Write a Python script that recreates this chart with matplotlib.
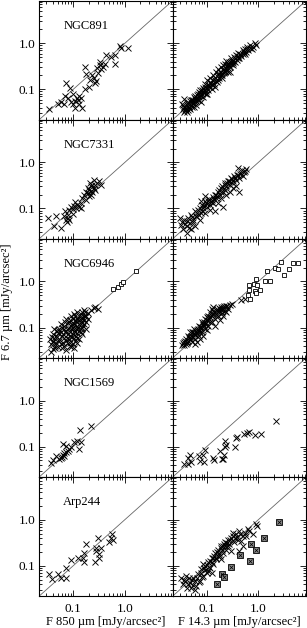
import numpy as np
import matplotlib
matplotlib.use("Agg")
import matplotlib.pyplot as plt
from matplotlib.ticker import LogLocator, NullFormatter

plt.rcParams['font.family'] = ['Liberation Serif', 'DejaVu Serif']

# --------------------------------------------------------------------------- #
# data: (F_x, F_6.7um) in mJy/arcsec^2                 #
# --------------------------------------------------------------------------- #
GALAXIES = ["NGC891", "NGC7331", "NGC6946", "NGC1569", "Arp244"]
XLABELS = ["F 850 µm [mJy/arcsec²]", "F 14.3 µm [mJy/arcsec²]"]
YLABEL = "F 6.7 µm [mJy/arcsec²]"
TICKS = [0.1, 1.0]
TICKLABELS = ["0.1", "1.0"]
LIMITS = (0.022, 8.5)

ngc891_850 = [
    (.034, .038), (.051, .047), (.058, .052), (.073, .14), (.087, .105), (.08, .066),
    (.1, .08), (.108, .04), (.12, .066), (.13, .073), (.125, .06), (.14, .066),
    (.09, .052), (.11, .055), (.1, .047), (.07, .07), (.065, .047), (.17, .1),
    (.2, .115), (.21, .16), (.17, .31), (.18, .22), (.23, .2), (.25, .18),
    (.28, .15), (.27, .14), (.3, .23), (.29, .29), (.33, .34), (.34, .27),
    (.37, .31), (.33, .4), (.43, .57), (.41, .36), (.54, .5), (.64, .55),
    (.64, .36), (.83, .8), (.8, .86), (1.15, .8), (.15, .04), (.13, .047),
]
ngc891_14 = [
    (.034, .038), (.036, .042), (.037, .063), (.038, .035), (.040, .040), (.041, .045),
    (.043, .053), (.044, .036), (.046, .042), (.048, .049), (.049, .058), (.051, .041),
    (.054, .047), (.056, .068), (.058, .053), (.060, .063), (.063, .045), (.064, .074),
    (.067, .058), (.070, .088), (.072, .068), (.074, .099), (.077, .053), (.080, .081),
    (.084, .109), (.086, .068), (.090, .096), (.093, .133), (.097, .078), (.100, .109),
    (.103, .158), (.108, .096), (.113, .122), (.117, .172), (.121, .137), (.125, .104),
    (.131, .158), (.135, .20), (.140, .13), (.145, .18), (.15, .24), (.155, .145),
    (.162, .20), (.168, .28), (.175, .172), (.18, .24), (.19, .30), (.195, .20),
    (.205, .26), (.21, .33), (.22, .225), (.225, .36), (.235, .28), (.24, .41),
    (.25, .33), (.26, .24), (.27, .40), (.28, .30), (.29, .47), (.30, .35),
    (.315, .42), (.33, .33), (.34, .50), (.35, .40), (.37, .55), (.38, .44),
    (.41, .62), (.43, .49), (.44, .60), (.47, .52), (.50, .71), (.51, .60),
    (.55, .77), (.57, .65), (.61, .83), (.63, .71), (.69, .90), (.74, .77),
    (.80, .83), (.86, .99), (.92, .90),
    (.036, .032), (.041, .032), (.048, .038), (.056, .042), (.033, .049), (.051, .058),
    (.074, .074), (.086, .088), (.1, .081), (.125, .133), (.145, .112), (.168, .158),
    (.195, .172), (.225, .24), (.28, .24), (.33, .42), (.41, .47), (.55, .60),
    (.035, .045), (.039, .036), (.042, .050), (.045, .040), (.047, .056), (.050, .045),
    (.053, .060), (.055, .050), (.059, .072), (.061, .055), (.065, .065), (.068, .080),
    (.071, .060), (.075, .085), (.078, .070), (.082, .095), (.088, .085), (.092, .110),
    (.095, .090), (.105, .125), (.110, .110), (.118, .145), (.128, .125), (.138, .165),
    (.148, .150), (.158, .190), (.172, .210), (.185, .200), (.200, .230), (.215, .280),
    (.230, .250), (.245, .310), (.260, .360), (.275, .330), (.300, .400), (.320, .380),
    (.360, .480), (.400, .520), (.450, .570), (.520, .660), (.590, .740), (.700, .800),
]
ngc7331_850 = [
    (.033, .062), (.046, .069), (.042, .042), (.057, .037), (.067, .067), (.072, .057),
    (.075, .052), (.08, .062), (.083, .055), (.070, .09), (.083, .093), (.09, .107),
    (.097, .097), (.105, .115), (.113, .102), (.12, .121), (.13, .107), (.14, .102),
    (.108, .135), (.15, .17), (.16, .2), (.175, .23), (.19, .28), (.20, .255),
    (.22, .30), (.235, .33), (.25, .28), (.21, .355), (.27, .33), (.29, .355),
    (.315, .39), (.235, .23), (.27, .255), (.34, .33), (.19, .22), (.22, .2),
    (.175, .155), (.14, .13), (.097, .077), (.078, .073), (.22, .245), (.25, .42),
    (.20, .19),
]
ngc7331_14 = [
    (.030, .062), (.032, .044), (.037, .057), (.041, .041), (.035, .035), (.044, .062),
    (.047, .048), (.050, .073), (.055, .057), (.059, .087), (.063, .067), (.068, .093),
    (.073, .057), (.077, .08), (.081, .121), (.085, .102), (.091, .143), (.091, .183),
    (.099, .11), (.107, .143), (.115, .121), (.124, .155), (.133, .13), (.142, .20),
    (.153, .17), (.165, .23), (.18, .20), (.19, .28), (.21, .23), (.21, .11),
    (.224, .355), (.24, .30), (.26, .39), (.28, .33), (.30, .46), (.32, .39),
    (.34, .50), (.37, .42), (.40, .54), (.43, .46), (.47, .60), (.50, .50),
    (.54, .64), (.58, .72), (.40, .76), (.43, .23), (.142, .087), (.079, .143),
    (.041, .029), (.059, .041), (.05, .035), (.091, .08), (.115, .093), (.165, .13),
    (.24, .20), (.32, .28), (.37, .30), (.28, .23), (.19, .17), (.224, .255),
    (.033, .05), (.038, .045), (.042, .053), (.046, .038), (.052, .065), (.054, .05),
    (.061, .070), (.066, .08), (.070, .072), (.075, .10), (.082, .09), (.088, .115),
    (.095, .13), (.102, .125), (.11, .16), (.12, .14), (.13, .175), (.14, .16),
    (.15, .20), (.16, .19), (.17, .25), (.185, .23), (.20, .30), (.215, .27),
    (.23, .32), (.25, .36), (.27, .40), (.29, .37), (.31, .43), (.35, .46),
    (.38, .52), (.45, .56), (.52, .62), (.48, .70),
]
ngc6946_850 = [
    (.040, .034), (.051, .037), (.072, .033), (.105, .036),
    (.037, .044), (.046, .045), (.058, .043), (.078, .046), (.097, .043), (.12, .045),
    (.036, .057), (.043, .058), (.054, .056), (.067, .059), (.083, .056), (.105, .058), (.13, .057),
    (.040, .073), (.051, .075), (.063, .071), (.078, .074), (.097, .072), (.12, .075), (.15, .073),
    (.043, .093), (.054, .091), (.067, .095), (.09, .092), (.113, .094), (.14, .091), (.175, .094),
    (.058, .12), (.078, .123), (.105, .119), (.13, .122), (.162, .12),
    (.072, .156), (.097, .153), (.12, .157), (.15, .154), (.19, .156),
    (.105, .20), (.14, .198), (.19, .202),
    (.162, .245), (.22, .24), (.037, .029),
    (.044, .039), (.066, .040), (.09, .038),
    (.040, .051), (.052, .050), (.072, .052), (.108, .050),
    (.046, .065), (.060, .066), (.088, .064), (.113, .065),
    (.048, .084), (.072, .085), (.105, .083), (.13, .085),
    (.066, .107), (.09, .108), (.12, .106), (.158, .107),
    (.083, .135), (.113, .136), (.14, .134), (.175, .135),
    (.09, .178), (.13, .177), (.162, .179),
    (.27, .28), (.30, .25), (.25, .26),
    (.045, .036), (.060, .036), (.085, .040), (.041, .048), (.062, .047), (.085, .047),
    (.049, .061), (.075, .060), (.095, .062), (.117, .060), (.057, .080), (.068, .078),
    (.088, .078), (.11, .079), (.14, .080), (.06, .10), (.078, .10), (.10, .10),
    (.125, .10), (.15, .10), (.07, .13), (.095, .12), (.12, .13), (.145, .125),
    (.085, .145), (.11, .145), (.135, .15), (.165, .145), (.11, .175), (.145, .17),
    (.18, .18), (.12, .22), (.15, .22), (.17, .215), (.039, .062), (.05, .09),
]
ngc6946_850_sq = [(.60, .67), (.73, .76), (.86, .89), (.91, .98), (1.68, 1.67)]
ngc6946_14 = [
    (.033, .041), (.036, .048), (.040, .044), (.039, .057), (.044, .052), (.048, .062),
    (.043, .067), (.051, .048), (.056, .073), (.060, .057), (.064, .087), (.07, .067),
    (.074, .102), (.08, .08), (.086, .121), (.093, .093), (.1, .143), (.108, .11),
    (.117, .17), (.125, .13), (.135, .20), (.145, .155), (.155, .23), (.168, .178),
    (.18, .255), (.195, .21), (.21, .28), (.225, .23), (.24, .30), (.26, .255),
    (.28, .31), (.125, .255), (.117, .215), (.074, .057), (.086, .067), (.064, .048),
    (.048, .08), (.056, .093), (.1, .087), (.145, .11), (.18, .143), (.155, .19),
    (.07, .11), (.08, .13), (.093, .155), (.108, .18), (.135, .28), (.21, .18),
    (.24, .215), (.051, .08), (.041, .048), (.06, .073), (.074, .08), (.093, .121),
    (.117, .13), (.168, .215), (.195, .255), (.036, .041), (.06, .044),
    (.31, .33), (.55, .42), (.47, .39),
    (.035, .045), (.038, .052), (.042, .047), (.045, .060), (.047, .055), (.050, .066),
    (.053, .062), (.055, .078), (.058, .068), (.062, .082), (.066, .075), (.068, .095),
    (.072, .088), (.076, .105), (.078, .095), (.083, .115), (.088, .108), (.09, .135),
    (.096, .128), (.104, .16), (.11, .15), (.12, .19), (.128, .175), (.14, .22),
    (.15, .20), (.16, .25), (.175, .23), (.19, .28), (.20, .24), (.22, .30),
    (.25, .29), (.17, .27), (.13, .23), (.10, .17),
]
ngc6946_14_sq = [
    (2.8, 2.6), (4.6, 2.5), (6.0, 2.5), (1.47, 1.67), (2.1, 2.0), (2.4, 1.9),
    (3.9, 1.85), (3.1, 1.37), (.92, 1.14), (1.32, 1.0), (1.7, 1.05), (.67, .82),
    (.81, .89), (.95, .86), (.67, .64), (.86, .62), (1.07, .64), (.62, .50),
    (.69, .42), (.92, .56),
]
ngc1569_850 = [
    (.037, .044), (.040, .050), (.046, .064), (.054, .054), (.060, .059), (.063, .066),
    (.067, .064), (.067, .071), (.072, .075), (.063, .115), (.072, .104), (.083, .089),
    (.09, .097), (.105, .124), (.118, .135), (.13, .09), (.14, .128), (.135, .225),
    (.22, .28), (.057, .057), (.078, .082),
]
ngc1569_14 = [
    (.036, .041), (.043, .057), (.048, .067), (.049, .047), (.072, .064), (.074, .048),
    (.086, .066), (.088, .047), (.093, .084), (.135, .057), (.138, .052), (.18, .08),
    (.195, .054), (.21, .054), (.22, .067), (.225, .099), (.235, .11), (.225, .13),
    (.35, .099), (.37, .155), (.39, .163), (.53, .19), (.61, .20), (.67, .21),
    (.86, .178), (1.15, .19), (2.2, .355), (.043, .041),
]
arp244_850 = [
    (.034, .067), (.038, .051), (.051, .067), (.059, .055), (.072, .053), (.074, .088),
    (.091, .13), (.123, .149), (.153, .145), (.165, .193), (.165, .123), (.178, .29),
    (.26, .118), (.28, .21), (.28, .245), (.30, .41), (.32, .18), (.31, .145),
    (.34, .245), (.50, .32), (.54, .40), (.57, .48), (.59, .355),
]
arp244_14 = [
    (.032, .055), (.035, .04), (.041, .033), (.047, .042), (.050, .033), (.059, .047),
    (.063, .036), (.068, .065), (.073, .047), (.079, .084), (.085, .06), (.091, .099),
    (.099, .07), (.107, .118), (.115, .09), (.124, .149), (.133, .107), (.142, .193),
    (.153, .137), (.165, .225), (.178, .163), (.19, .268), (.21, .193), (.224, .32),
    (.24, .225), (.26, .268), (.28, .37), (.30, .21), (.32, .44), (.34, .32),
    (.37, .48), (.40, .37), (.43, .57), (.47, .34), (.54, .52), (.58, .44),
    (.62, .62), (.79, .48), (.91, .80), (.95, .73), (.32, .52), (.038, .047),
    (.055, .055), (.046, .055), (.085, .107), (.107, .075), (.133, .149), (.165, .163),
    (.21, .268), (.26, .37), (.124, .07), (.19, .137), (.43, .21), (.50, .268),
    (.036, .050), (.044, .04), (.052, .048), (.055, .038), (.066, .055), (.07, .044),
    (.076, .07), (.082, .058), (.088, .09), (.094, .08), (.10, .105), (.11, .095),
    (.118, .125), (.128, .12), (.138, .16), (.148, .15), (.158, .2), (.17, .19),
    (.185, .24), (.20, .22), (.215, .29), (.23, .27), (.25, .31), (.27, .30),
    (.29, .40), (.35, .41), (.38, .42), (.45, .50), (.5, .45), (.66, .56),
    (.06, .03), (.04, .06),
]
arp244_14_sq = [
    (2.5, .89), (1.27, .40), (.73, .30), (.91, .215), (.45, .172), (.68, .127),
    (.30, .093), (.20, .067), (.22, .057), (.16, .041),
]

CROSSES = [
    (ngc891_850, ngc891_14),
    (ngc7331_850, ngc7331_14),
    (ngc6946_850, ngc6946_14),
    (ngc1569_850, ngc1569_14),
    (arp244_850, arp244_14),
]
OPEN_SQUARES = {(2, 0): ngc6946_850_sq, (2, 1): ngc6946_14_sq}
FILLED_SQUARES = {(4, 1): arp244_14_sq}


def _xy(pairs):
    a = np.array(pairs, dtype=float)
    return a[:, 0], a[:, 1]


# --------------------------------------------------------------------------- #
W, H = 307, 628
fig = plt.figure(figsize=(W / 100, H / 100), dpi=100)

left_px, mid_px, right_px = 39.3, 172.8, 306.3
top_px, row_px = 0.5, 119.1

for r in range(5):
    for c in range(2):
        x0 = left_px if c == 0 else mid_px
        x1 = mid_px if c == 0 else right_px
        y_top = top_px + r * row_px
        ax = fig.add_axes([x0 / W, 1 - (y_top + row_px) / H,
                           (x1 - x0) / W, row_px / H])
        ax.set_xscale("log")
        ax.set_yscale("log")
        ax.set_xlim(*LIMITS)
        ax.set_ylim(*LIMITS)

        ax.plot(LIMITS, LIMITS, color="#666666", lw=0.6, zorder=1)

        xs, ys = _xy(CROSSES[r][c])
        ms = 4.6 if c == 0 else 3.8
        ax.plot(xs, ys, ls="none", marker="x", ms=ms, mew=0.65,
                color="black", zorder=3)

        if (r, c) in OPEN_SQUARES:
            sx, sy = _xy(OPEN_SQUARES[(r, c)])
            ax.plot(sx, sy, ls="none", marker="s", ms=3.4, mew=0.6,
                    mfc="white", mec="black", zorder=4)
        if (r, c) in FILLED_SQUARES:
            sx, sy = _xy(FILLED_SQUARES[(r, c)])
            ax.plot(sx, sy, ls="none", marker="s", ms=3.8, mew=0.6,
                    mfc="#8a8a8a", mec="black", zorder=4)
            ax.plot(sx, sy, ls="none", marker="x", ms=2.6, mew=0.5,
                    color="black", zorder=5)

        for axis in (ax.xaxis, ax.yaxis):
            axis.set_major_locator(plt.FixedLocator(TICKS))
            axis.set_major_formatter(plt.FixedFormatter(TICKLABELS))
            axis.set_minor_locator(LogLocator(base=10, subs=np.arange(2, 10)))
            axis.set_minor_formatter(NullFormatter())

        ax.tick_params(which="both", direction="in", top=True, right=True,
                       labelsize=9.5, width=0.6)
        ax.tick_params(which="major", length=4)
        ax.tick_params(which="minor", length=2)
        ax.tick_params(axis="y", pad=3)
        ax.tick_params(axis="x", pad=5)
        ax.tick_params(labelleft=(c == 0), labelbottom=(r == 4))
        for sp in ax.spines.values():
            sp.set_linewidth(0.8)

        if c == 0:
            ax.text(0.18, 0.79, GALAXIES[r], transform=ax.transAxes,
                    ha="left", va="center", fontsize=9)

fig.text((left_px + mid_px) / 2 / W, 1 - 622 / H, XLABELS[0],
         ha="center", va="center", fontsize=9)
fig.text((mid_px + right_px) / 2 / W, 1 - 622 / H, XLABELS[1],
         ha="center", va="center", fontsize=9)
fig.text(7.5 / W, 1 - 302 / H, YLABEL, rotation=90,
         ha="center", va="center", fontsize=9)

fig.savefig("out.png", dpi=100)
